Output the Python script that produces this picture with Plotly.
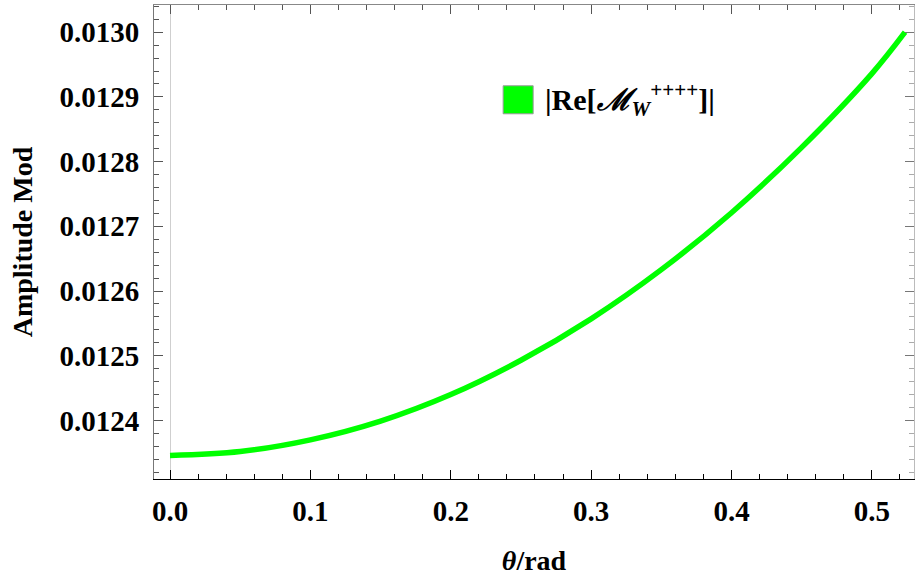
import plotly.graph_objects as go

# data
theta = [0.0, 0.05, 0.1, 0.15, 0.2, 0.25, 0.3, 0.35, 0.4, 0.45, 0.5, 0.5236]
amp = [0.012346, 0.012352, 0.012370, 0.012399, 0.012440, 0.012493,
       0.012557, 0.012633, 0.012721, 0.012822, 0.012936, 0.013000]
series_name = "<b>|Re[<i>ℳ</i><sub><i>W</i></sub><sup>++++</sup>]|</b>"
x_ticks = [0.0, 0.1, 0.2, 0.3, 0.4, 0.5]
y_ticks = [0.0124, 0.0125, 0.0126, 0.0127, 0.0128, 0.0129, 0.0130]

XR = [-0.0114, 0.530]
YR = [0.0123095, 0.013042]
FONT = "Liberation Serif"
GREEN = "#00ff00"

fig = go.Figure()
fig.add_trace(go.Scatter(x=theta, y=amp, mode="lines", name=series_name,
                         line=dict(color=GREEN, width=5.5, shape="spline", smoothing=1.0),
                         showlegend=False, hoverinfo="skip"))
# invisible trace for mirrored frame axes
fig.add_trace(go.Scatter(x=[XR[0]], y=[YR[0]], xaxis="x2", yaxis="y2", mode="markers",
                         marker=dict(opacity=0), showlegend=False, hoverinfo="skip"))

tickfont = dict(family=FONT, size=29, color="black", weight="bold")
fig.update_layout(
    width=915, height=582,
    margin=dict(l=154, r=1, t=5, b=103),
    paper_bgcolor="white", plot_bgcolor="white",
    xaxis=dict(range=XR, tickvals=x_ticks, tickformat=".1f", ticks="inside", ticklen=9,
               tickcolor="black", tickwidth=1, showline=True, linecolor="black", linewidth=1,
               showgrid=False, zeroline=True, zerolinecolor="#cfcfcf", zerolinewidth=1,
               tickfont=tickfont, ticklabelstandoff=6,
               minor=dict(dtick=0.02, tick0=0, ticks="inside", ticklen=5, tickcolor="black", showgrid=False),
               title=dict(text="<i>θ</i>/rad", font=dict(family=FONT, size=28, color="black", weight="bold"),
                          standoff=24)),
    yaxis=dict(range=YR, tickvals=y_ticks, tickformat=".4f", ticks="inside", ticklen=9,
               tickcolor="#555", tickwidth=1, showline=True, linecolor="#777", linewidth=1,
               showgrid=False, zeroline=False, tickfont=tickfont, ticklabelstandoff=8,
               minor=dict(dtick=0.00002, tick0=0.0124, ticks="inside", ticklen=5, tickcolor="#555", showgrid=False),
               title=dict(text="Amplitude Mod", font=dict(family=FONT, size=28, color="black", weight="bold"),
                          standoff=18)),
    xaxis2=dict(range=XR, overlaying="x", side="top", tickvals=x_ticks, ticks="inside", ticklen=9,
                tickcolor="#555", showticklabels=False, showline=True, linecolor="#888", linewidth=1,
                showgrid=False, zeroline=False,
                minor=dict(dtick=0.02, tick0=0, ticks="inside", ticklen=5, tickcolor="#555", showgrid=False)),
    yaxis2=dict(range=YR, overlaying="y", side="right", tickvals=y_ticks, ticks="inside", ticklen=9,
                tickcolor="#777", showticklabels=False, showline=True, linecolor="#bbb", linewidth=1,
                showgrid=False, zeroline=False,
                minor=dict(dtick=0.00002, tick0=0.0124, ticks="inside", ticklen=5, tickcolor="#aaa", showgrid=False)),
    showlegend=False,
)

# legend box drawn as a square swatch plus label
fig.add_shape(type="rect", xref="paper", yref="paper", x0=0.4594, x1=0.4989, y0=0.7705, y1=0.8296,
              fillcolor=GREEN, line=dict(color="#9a9a9a", width=1))
fig.add_annotation(xref="paper", yref="paper", x=0.512, y=0.800, xanchor="left", yanchor="middle",
                   text=series_name, showarrow=False, font=dict(family=FONT, size=30, color="black"))

fig.write_html("out.html")
